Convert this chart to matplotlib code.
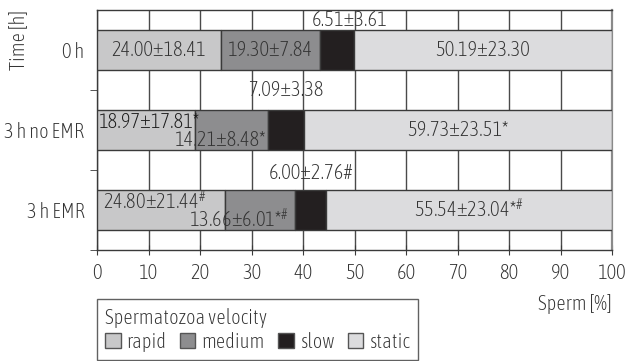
import matplotlib
matplotlib.use('Agg')
import matplotlib.pyplot as plt
import numpy as np

plt.rcParams['font.family'] = ['Asap Condensed', 'DejaVu Sans']
plt.rcParams['font.weight'] = 'light'
plt.rcParams['mathtext.fontset'] = 'custom'
plt.rcParams['mathtext.rm'] = 'Asap Condensed:weight=light'
plt.rcParams['mathtext.it'] = 'Asap Condensed:weight=light'

groups = ['0 h', '3 h no EMR', '3 h EMR']
categories = ['rapid', 'medium', 'slow', 'static']
rapid = [24.00, 18.97, 24.80]
medium = [19.30, 14.21, 13.66]
slow = [6.51, 7.09, 6.00]
static = [50.19, 59.73, 55.54]

rapid_lbl = ['24.00±18.41', '18.97±17.81*', '24.80±21.44$^{\\#}$']
medium_lbl = ['19.30±7.84', '14.21±8.48*', '13.66±6.01*$^{\\#}$']
slow_lbl = ['6.51±3.61', '7.09±3.38', '6.00±2.76#']
static_lbl = ['50.19±23.30', '59.73±23.51*', '55.54±23.04*$^{\\#}$']

colors = ['#c8c8c9', '#8d8d8f', '#231f20', '#dcdcde']
txt = '#333333'
edge = '#3a3a3a'

fig = plt.figure(figsize=(6.25, 3.61), dpi=100)
ax = fig.add_axes([0.1552, 0.3075, 0.8240, 0.6648])

y = np.arange(len(groups))
series = [rapid, medium, slow, static]
left = np.zeros(len(groups))
bars = []
for vals, c, name in zip(series, colors, categories):
    b = ax.barh(y, vals, left=left, height=0.5, color=c, edgecolor=edge,
                linewidth=1.0, label=name, zorder=3)
    bars.append(b)
    left = left + np.array(vals)

ax.set_xlim(0, 100)
ax.set_ylim(2.5, -0.5)
ax.set_xticks(np.arange(0, 101, 10))
ax.xaxis.grid(True, color='#4a4a4a', linewidth=1.0, zorder=0)
ax.set_axisbelow(True)
fs = 14.8
ax.tick_params(axis='x', direction='inout', length=7, colors='#3a3a3a',
               labelcolor=txt, labelsize=fs, pad=6)
ax.set_yticks(y)
ax.set_yticklabels(groups)
ax.set_yticks([0.5, 1.5, 2.5], minor=True)
ax.tick_params(axis='y', which='major', length=0, labelcolor=txt, labelsize=fs, pad=9)
ax.tick_params(axis='y', which='minor', direction='out', length=5, color='#3a3a3a')
for s in ax.spines.values():
    s.set_color('#3a3a3a')
    s.set_linewidth(1.0)
ax.spines['right'].set_color('#8a8a8a')
ax.spines['right'].set_linewidth(1.6)

r = np.array(rapid)
m = np.array(medium)
s_ = np.array(slow)
st = np.array(static)

# 0 h row: labels centred in the segments
ax.text(r[0] / 2, 0, rapid_lbl[0], ha='center', va='center', fontsize=fs, color=txt, zorder=5)
ax.text(r[0] + m[0] / 2, 0, medium_lbl[0], ha='center', va='center', fontsize=fs, color=txt, zorder=5)
# other rows: rapid upper left, medium lower right
for i in [1, 2]:
    ax.text(0.3 + 0.9 * (i - 1), i - 0.1, rapid_lbl[i], ha='left', va='center',
            fontsize=fs, color='#1a1a1a' if i == 1 else txt, zorder=5)
    ax.text(r[i] + m[i] - 0.3 - 1.0 * (i - 1), i + 0.13, medium_lbl[i], ha='right', va='center',
            fontsize=fs, color=txt, zorder=5)

# slow labels above the bars
slow_x = [r[0] + m[0] + s_[0] - 0.7, r[1] + m[1] + s_[1] / 2, r[2] + m[2] + s_[2] / 2]
slow_y = [-0.38, 0.5, 1.54]
for i in range(3):
    ax.text(slow_x[i], slow_y[i], slow_lbl[i], ha='center', va='center',
            fontsize=fs, color=txt, zorder=5)

# static labels centred
for i in range(3):
    ax.text(100 - st[i] / 2, i, static_lbl[i], ha='center', va='center',
            fontsize=fs, color=txt, zorder=5)

ax.text(-15.3, -0.5, 'Time [h]', rotation=90, ha='center', va='top',
        fontsize=fs, color=txt, clip_on=False)
ax.text(100, 2.5 + 0.68, 'Sperm [%]', ha='right', va='center', fontsize=fs, color=txt, clip_on=False)

leg = fig.legend(handles=bars, labels=categories, loc='lower left',
                 bbox_to_anchor=(0.155, 0.003), borderaxespad=0, ncol=4,
                 title='Spermatozoa velocity',
                 alignment='left', fontsize=fs, title_fontsize=fs, frameon=True,
                 fancybox=False, edgecolor='#3a3a3a', handlelength=0.75, handleheight=0.75,
                 handletextpad=0.3, columnspacing=0.65, borderpad=0.4, labelspacing=0.2)
leg.get_frame().set_linewidth(1.0)
for t in leg.get_texts():
    t.set_color(txt)
leg.get_title().set_color(txt)
for h in leg.legend_handles:
    h.set_edgecolor('#555555')

fig.savefig('out.png', dpi=100)
